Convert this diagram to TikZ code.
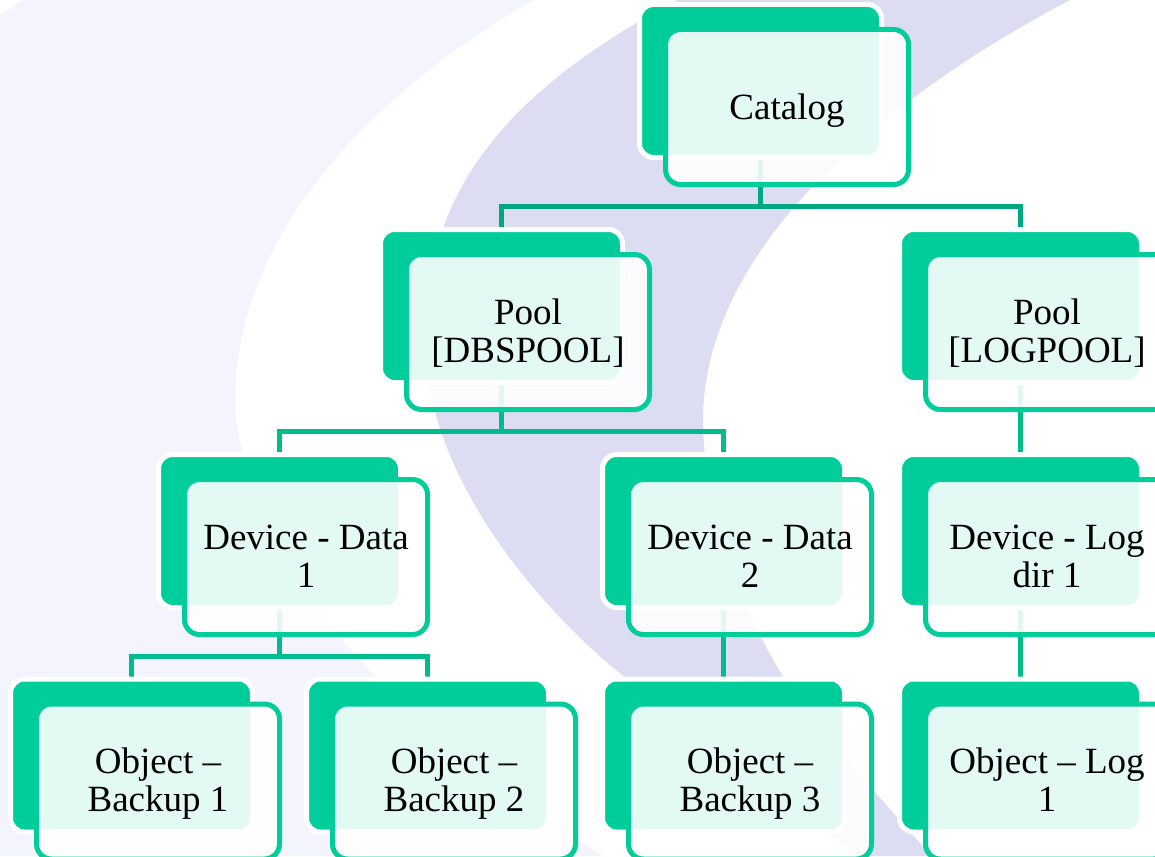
\documentclass[tikz,border=0pt]{standalone}
\usepackage{fontspec}
\setmainfont{Liberation Serif}
\definecolor{paleBg}{HTML}{F4F4FE}
\definecolor{midBg}{HTML}{DCDCF3}
\definecolor{boxGreen}{HTML}{00CD9A}
\definecolor{busDark}{HTML}{00A87F}
\definecolor{busMid}{HTML}{00BB8D}
\pgfdeclarelayer{connectors}
\pgfsetlayers{connectors,main}
\newcommand{\oneline}[1]{\rule[-6pt]{0pt}{38pt}#1}
\newcommand{\twolines}[2]{\rule{0pt}{29pt}#1\\\rule[-7pt]{0pt}{7pt}#2}
% name, left of back box, top of back box, text
\newcommand{\boxpair}[4]{%
  \node[backbox] (#1B) at (#2+118.5,#3+74) {};
  \node[frontbox] (#1F) at (#2+145,#3+100) {#4};
}
\tikzset{
  backbox/.style={rectangle,rounded corners=14pt,minimum width=242pt,minimum height=153pt,
    inner sep=0pt,outer sep=0pt,fill=boxGreen,draw=white,line width=5pt},
  frontbox/.style={rectangle,rounded corners=15pt,minimum width=243pt,minimum height=155pt,
    inner sep=0pt,outer sep=0pt,fill=white,fill opacity=.89,text opacity=1,draw=boxGreen,draw opacity=1,
    line width=5pt,align=center,text=black,font=\fontsize{37}{38}\selectfont},
  busA/.style={draw=busDark,line width=5pt,miter limit=10},
  busB/.style={draw=busMid,line width=5pt,miter limit=10},
}
\begin{document}
\begin{tikzpicture}[x=1pt,y=-1pt]
\useasboundingbox (0,0) rectangle (1155,856);
\clip (0,0) rectangle (1155,856);
\begin{pgfonlayer}{connectors}
\fill[white] (0,0) rectangle (1155,856);
\fill[paleBg] (23,0) -- (534,0)
  .. controls (350,105) and (235,250) .. (235,400)
  .. controls (235,480) and (300,600) .. (374,675)
  .. controls (450,750) and (530,810) .. (603,856)
  -- (0,856) -- (0,16) -- cycle;
\fill[midBg] (677,0) -- (1070,0)
  .. controls (880,100) and (703,250) .. (703,420)
  .. controls (703,490) and (730,590) .. (782,675)
  .. controls (830,740) and (880,800) .. (932,856)
  -- (862,856)
  .. controls (780,805) and (690,735) .. (622,675)
  .. controls (530,600) and (425,470) .. (425,340)
  .. controls (425,195) and (500,95) .. (677,0)
  -- cycle;
\end{pgfonlayer}

\boxpair{cat}{642}{7}{\oneline{Catalog}}
\boxpair{db}{383}{232}{\twolines{Pool}{{[}DBSPOOL]}}
\boxpair{log}{902}{232}{\twolines{Pool}{{[}LOGPOOL]}}
\boxpair{devA}{161}{457}{\twolines{Device - Data}{1}}
\boxpair{devB}{605}{457}{\twolines{Device - Data}{2}}
\boxpair{devL}{902}{457}{\twolines{Device - Log}{dir 1}}
\boxpair{objA}{13}{681.5}{\twolines{Object –}{Backup 1}}
\boxpair{objB}{309}{681.5}{\twolines{Object –}{Backup 2}}
\boxpair{objC}{605}{681.5}{\twolines{Object –}{Backup 3}}
\boxpair{objL}{902}{681.5}{\twolines{Object – Log}{1}}

\coordinate (busCat) at (760.5,206.5);
\coordinate (busDb) at (501.5,431);
\coordinate (busDev) at (279.5,656);
\begin{pgfonlayer}{connectors}
\draw[busA] (catB.south) -- (busCat);
\draw[busA] (dbB.north) |- (busCat) -| (logB.north);
\draw[busB] (dbB.south) -- (busDb);
\draw[busB] (devAB.north) |- (busDb) -| (devBB.north);
\draw[busB] (logB.south) -- (devLB.north);
\draw[busB] (devAB.south) -- (busDev);
\draw[busB] (objAB.north) |- (busDev) -| (objBB.north);
\draw[busB] (devBB.south) -- (objCB.north);
\draw[busB] (devLB.south) -- (objLB.north);
\end{pgfonlayer}
\end{tikzpicture}
\end{document}
